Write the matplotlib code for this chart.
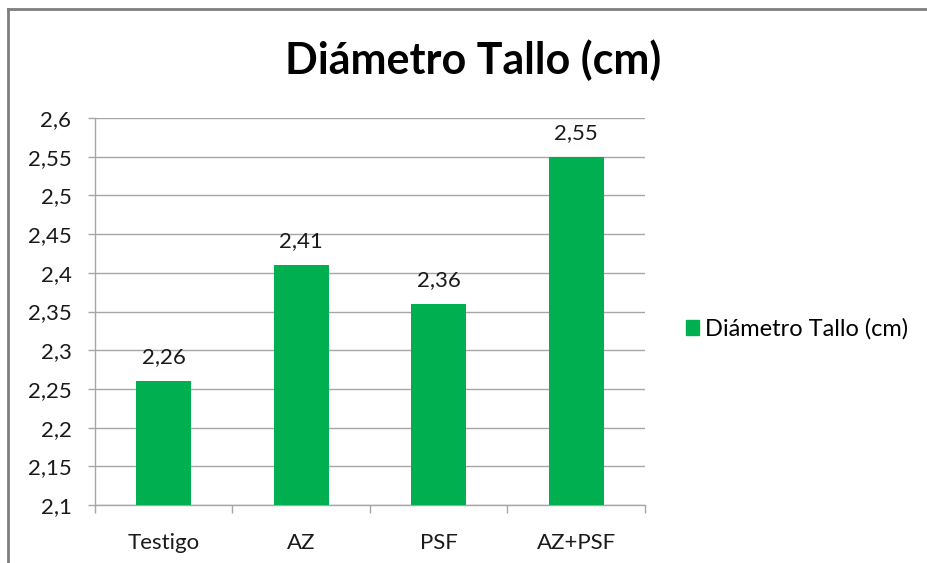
import matplotlib.pyplot as plt
from matplotlib.lines import Line2D

categorias = ["Testigo", "AZ", "PSF", "AZ+PSF"]
diametro = [2.26, 2.41, 2.36, 2.55]
yticks = [2.1, 2.15, 2.2, 2.25, 2.3, 2.35, 2.4, 2.45, 2.5, 2.55, 2.6]

VERDE = "#00B050"
GRIS = "#A6A6A6"
TXT = "#1a1a1a"

plt.rcParams["font.family"] = ["Lato", "DejaVu Sans"]

def coma(v):
    return f"{v:g}".replace(".", ",")

fig = plt.figure(figsize=(9.28, 5.63), dpi=100)
ax = fig.add_axes([95 / 928, 1 - 505 / 563, 550 / 928, 387 / 563])

x = list(range(len(categorias)))
ax.bar(x, diametro, width=0.4, color=VERDE, zorder=3,
       label="Diámetro Tallo (cm)")
for xi, v in zip(x, diametro):
    ax.annotate(coma(v), (xi, v), xytext=(0, 10), textcoords="offset points",
                ha="center", va="bottom", fontsize=16, color=TXT)

ax.set_xlim(-0.5, len(categorias) - 0.5)
ax.set_ylim(2.1, 2.6)
ax.set_yticks(yticks)
ax.set_yticklabels([coma(t) for t in yticks])
ax.yaxis.grid(True, color=GRIS, linewidth=1, zorder=0)

ax.set_xticks(x)
ax.set_xticklabels(categorias)
ax.set_xticks([i - 0.5 for i in range(len(categorias) + 1)], minor=True)
ax.tick_params(axis="x", which="major", length=0, pad=20, labelsize=16,
               labelcolor=TXT)
ax.tick_params(axis="x", which="minor", length=6, color=GRIS, width=1)
ax.tick_params(axis="y", length=5, color=GRIS, width=1, pad=12, labelsize=16,
               labelcolor=TXT)

for s in ["top", "right"]:
    ax.spines[s].set_visible(False)
for s in ["left", "bottom"]:
    ax.spines[s].set_color(GRIS)
    ax.spines[s].set_linewidth(1)

fig.text(473 / 928, 1 - 60 / 563, "Diámetro Tallo (cm)", ha="center",
         va="center", fontsize=31, fontweight="bold", color="black")

fig.legend(handles=[plt.Rectangle((0, 0), 1, 1, color=VERDE)],
           labels=["Diámetro Tallo (cm)"], loc="center left",
           bbox_to_anchor=(686 / 928, 1 - 329 / 563), frameon=False,
           fontsize=17, handlelength=0.55, handleheight=0.55,
           handletextpad=0.25, borderaxespad=0, borderpad=0)

# marco del gráfico (recortado a la derecha y abajo)
fig.add_artist(Line2D([8 / 928, 1], [1 - 9 / 563] * 2, color="#7f7f7f",
                      linewidth=2, transform=fig.transFigure))
fig.add_artist(Line2D([8 / 928] * 2, [0, 1 - 9 / 563], color="#7f7f7f",
                      linewidth=2, transform=fig.transFigure))

fig.savefig("out.png", dpi=100)
